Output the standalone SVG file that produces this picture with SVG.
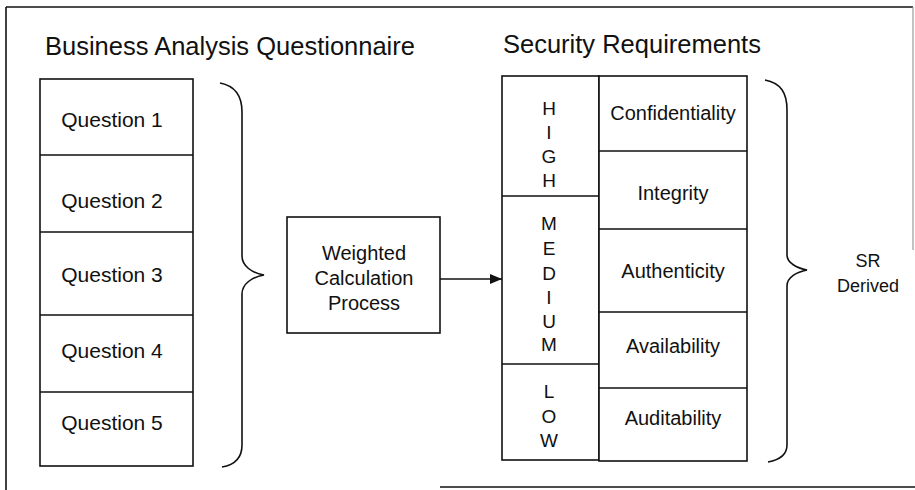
<svg xmlns="http://www.w3.org/2000/svg" width="915" height="490" viewBox="0 0 915 490">
<defs>
<style>
.ln{fill:none;stroke:#111;stroke-width:1.6}
.bx{fill:#fff;stroke:#111;stroke-width:1.6}
text{font-family:"Liberation Sans",Arial,sans-serif;fill:#111}
.ttl{font-size:25.5px}
.q{font-size:21px;text-anchor:middle}
.m{font-size:20px;text-anchor:middle}
.lt{font-size:19px;text-anchor:middle}
.sr{font-size:18px;text-anchor:middle}
</style>
<marker id="ah" markerWidth="12" markerHeight="10" refX="12" refY="5" orient="auto" markerUnits="userSpaceOnUse">
<path d="M0,0 L12,5 L0,10 Z" fill="#111"/>
</marker>
</defs>
<rect width="915" height="490" fill="#fff"/>
<g id="frame">
<path class="ln" d="M6,7 L913,7"/>
<path class="ln" d="M6,7 L6,490"/>
<path d="M913,7 L913,250" fill="none" stroke="#999" stroke-width="1.2"/>
<path class="ln" d="M440,487 L915,487" stroke-width="2"/>
</g>
<g id="title-questionnaire"><text class="ttl" x="45" y="55">Business Analysis Questionnaire</text></g>
<g id="title-security"><text class="ttl" x="503" y="53">Security Requirements</text></g>
<g id="questionnaire">
<rect class="bx" x="40" y="79" width="153" height="387"/>
<path class="ln" d="M40,155 H193 M40,232 H193 M40,315 H193 M40,392 H193"/>
<text class="q" x="112" y="127">Question 1</text>
<text class="q" x="112" y="208">Question 2</text>
<text class="q" x="112" y="282">Question 3</text>
<text class="q" x="112" y="358">Question 4</text>
<text class="q" x="112" y="430">Question 5</text>
</g>
<g id="brace-left">
<path class="ln" d="M220,83 C236,86 242,96 242,112 L242,256 C242,266 252,273 264,275 C252,277 242,284 242,294 L242,445 C242,458 234,465 222,467"/>
</g>
<g id="weighted">
<rect class="bx" x="287" y="217" width="153" height="116"/>
<text class="m" x="364" y="260">Weighted</text>
<text class="m" x="364" y="285">Calculation</text>
<text class="m" x="364" y="310">Process</text>
</g>
<g id="connectors">
<path class="ln" d="M440,279 L502,279" marker-end="url(#ah)"/>
</g>
<g id="levels">
<rect class="bx" x="502" y="76" width="97" height="384"/>
<path class="ln" d="M502,196 H599 M502,364 H599"/>
<text class="lt" x="549" y="115">H</text>
<text class="lt" x="549" y="139">I</text>
<text class="lt" x="549" y="163">G</text>
<text class="lt" x="549" y="187">H</text>
<text class="lt" x="549" y="230">M</text>
<text class="lt" x="549" y="255">E</text>
<text class="lt" x="549" y="280">D</text>
<text class="lt" x="549" y="304">I</text>
<text class="lt" x="549" y="328">U</text>
<text class="lt" x="549" y="351">M</text>
<text class="lt" x="549" y="398">L</text>
<text class="lt" x="549" y="423">O</text>
<text class="lt" x="549" y="447">W</text>
</g>
<g id="requirements">
<rect class="bx" x="599" y="76" width="148" height="385"/>
<path class="ln" d="M599,151 H747 M599,229 H747 M599,312 H747 M599,388 H747"/>
<text class="m" x="673" y="120">Confidentiality</text>
<text class="m" x="673" y="200">Integrity</text>
<text class="m" x="673" y="278">Authenticity</text>
<text class="m" x="673" y="353">Availability</text>
<text class="m" x="673" y="425">Auditability</text>
</g>
<g id="brace-right">
<path class="ln" d="M765,80 C781,83 787,93 787,110 L787,255 C787,263 797,268 807,270 C797,272 787,277 787,286 L787,445 C787,455 779,460 768,462"/>
</g>
<g id="sr-derived">
<text class="sr" x="868" y="267">SR</text>
<text class="sr" x="868" y="292">Derived</text>
</g>
</svg>
